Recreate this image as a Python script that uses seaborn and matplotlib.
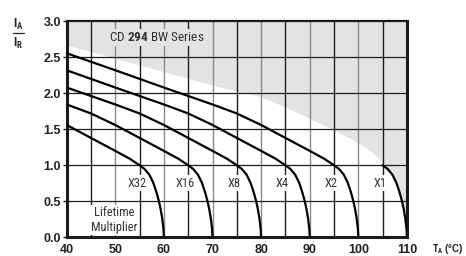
import matplotlib
matplotlib.use("Agg")
import matplotlib.pyplot as plt
from matplotlib import font_manager
from matplotlib.lines import Line2D
import seaborn as sns
import pandas as pd

# Lifetime curves: one derating profile, shifted by 10 degC per multiplier step
multipliers = ["X32", "X16", "X8", "X4", "X2", "X1"]
end_temps = [60, 70, 80, 90, 100, 110]

# profile: offset from end temperature vs. current ratio
profile_dx = [-60, -50, -40, -30, -25, -20, -15, -10, -7, -5,
              -4, -3, -2.2, -1.6, -1.1, -0.7, -0.35, -0.1, 0]
profile_ratio = [2.556, 2.32, 2.08, 1.845, 1.72, 1.56, 1.38, 1.20, 1.09, 1.00,
                 0.95, 0.87, 0.76, 0.64, 0.52, 0.40, 0.26, 0.12, 0.0]

# upper edge of the white (allowed) zone
shade_temp = [40, 50, 60, 67.4, 75, 80, 85, 90, 95, 98.3, 101, 103, 104.3]
shade_ratio = [2.67, 2.485, 2.30, 2.16, 2.03, 1.95, 1.81, 1.65, 1.49, 1.375, 1.27, 1.17, 1.09]

x_ticks = [40, 50, 60, 70, 80, 90, 100, 110]
y_ticks = [0.0, 0.5, 1.0, 1.5, 2.0, 2.5, 3.0]

sns.set_style("white")

available = {f.name for f in font_manager.fontManager.ttflist}
narrow = "DejaVu Sans"
for name in ["Liberation Sans Narrow", "DejaVu Sans Condensed", "Roboto Condensed"]:
    if name in available:
        narrow = name
        break

plt.rcParams["font.family"] = ["Liberation Sans", "DejaVu Sans"]
plt.rcParams["mathtext.fontset"] = "custom"
plt.rcParams["mathtext.rm"] = narrow
plt.rcParams["mathtext.bf"] = narrow + ":bold"

# long-form table for seaborn
rows = []
for mult, end in zip(multipliers, end_temps):
    for dx, r in zip(profile_dx, profile_ratio):
        if mult == "X1" and dx < -5:
            continue
        rows.append({"temp": end + dx, "ratio": r, "mult": mult})
curves = pd.DataFrame(rows)

fig = plt.figure(figsize=(4.66, 2.56), dpi=100)
ax = fig.add_axes([0.1431, 0.073, 0.7303, 0.8438])

# grey zone: above the boundary and to the right of the X1 curve
x1 = curves[curves["mult"] == "X1"]
fill_x = shade_temp + list(x1["temp"])
fill_y = shade_ratio + list(x1["ratio"])
ax.fill_between(fill_x, fill_y, 3.0, color="#e3e3e3", lw=0, zorder=0)

# grid
for t in range(45, 110, 5):
    c = "#1e1e1e" if t % 10 else "#8a8a8a"
    ax.axvline(t, color=c, lw=1.0, zorder=1)
for v in y_ticks[1:-1]:
    ax.axhline(v, color="#1e1e1e", lw=0.9, zorder=1)

sns.lineplot(data=curves, x="temp", y="ratio", hue="mult", sort=False,
             palette=["black"] * len(multipliers), lw=1.6, legend=False,
             ax=ax, zorder=4)

txt_font = dict(family=[narrow, "DejaVu Sans"], color="#333333", fontsize=9)
for mult, end in zip(multipliers, end_temps):
    ax.text(end - 5.6, 0.75, mult, ha="center", va="center", zorder=3,
            bbox=dict(facecolor="white", edgecolor="none", pad=1.0), **txt_font)

ax.text(49.7, 0.24, "Lifetime\nMultiplier", ha="center", va="center",
        linespacing=1.15, zorder=3,
        bbox=dict(facecolor="white", edgecolor="none", pad=1.0), **txt_font)

ax.text(58.5, 2.77, r"CD $\mathbf{294}$ BW Series", ha="center", va="center",
        zorder=3, bbox=dict(facecolor="#e3e3e3", edgecolor="none", pad=1.5),
        family=[narrow, "DejaVu Sans"], color="#333333", fontsize=9.5)

ax.set_xlim(40, 110)
ax.set_ylim(0, 3.0)
ax.set_xticks(x_ticks)
ax.set_yticks(y_ticks)
ax.set_xticklabels([str(t) for t in x_ticks], fontweight="bold", fontsize=9)
ax.set_yticklabels([f"{v:.1f}" for v in y_ticks], fontweight="bold", fontsize=9)
ax.tick_params(axis="x", length=0, pad=5, colors="#222222")
ax.tick_params(axis="y", length=3, width=1, pad=1, colors="#222222", direction="out", left=True)
ax.set_xlabel("")
ax.set_ylabel("")

for side in ["left", "bottom", "right"]:
    ax.spines[side].set_linewidth(2.2)
    ax.spines[side].set_color("#1a1a1a")
ax.spines["top"].set_linewidth(1.6)
ax.spines["top"].set_color("#1a1a1a")

# I_A / I_R fraction label
fig.text(18 / 466, 1 - 24 / 256, r"$\mathbf{I}_{\mathbf{A}}$",
         ha="center", va="center", fontsize=9, color="#222222")
fig.add_artist(Line2D([12.5 / 466, 23.5 / 466], [1 - 33 / 256, 1 - 33 / 256],
                      color="#222222", lw=0.9))
fig.text(18 / 466, 1 - 43 / 256, r"$\mathbf{I}_{\mathbf{R}}$",
         ha="center", va="center", fontsize=9, color="#222222")
fig.text(464 / 466, 1 - 249 / 256, r"$\mathbf{T}_{\mathbf{A}}$" + " (°C)",
         ha="right", va="center", fontsize=7, fontweight="bold", color="#222222")

fig.savefig("out.png", dpi=100)
